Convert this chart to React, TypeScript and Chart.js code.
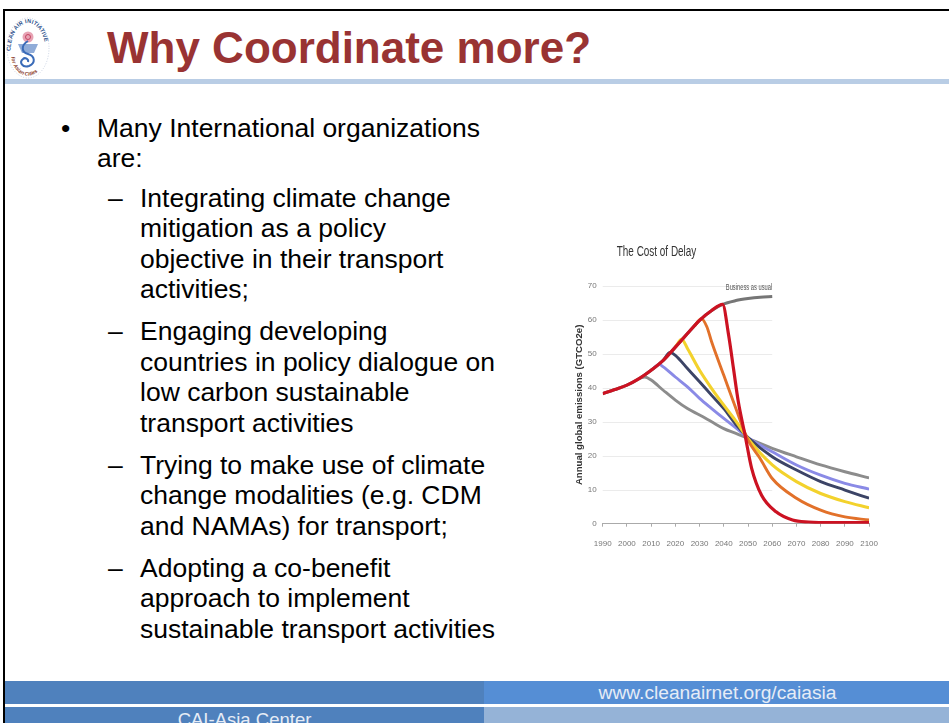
import React, { useEffect, useRef } from "react";
import { Chart, registerables } from "chart.js";

Chart.register(...registerables);

// ---------- data ----------
const xTickYears = [1990, 2000, 2010, 2020, 2030, 2040, 2050, 2060, 2070, 2080, 2090, 2100];
const yTickValues = [0, 10, 20, 30, 40, 50, 60, 70];

const bauYears = [1990, 1995, 2000, 2005, 2010, 2015, 2020, 2025, 2030, 2035, 2039.5, 2045, 2050, 2055, 2060];
const bauValues = [38.3, 39.5, 40.8, 42.7, 45.2, 48.1, 52, 56, 59.9, 62.8, 64.6, 65.7, 66.3, 66.7, 66.9];

const redYears = [1990, 1995, 2000, 2005, 2010, 2015, 2020, 2025, 2030, 2035, 2039.5, 2042, 2044, 2046, 2048.8, 2051.5, 2055.6, 2061.6, 2068.4, 2075, 2085, 2100];
const redValues = [38.3, 39.5, 40.8, 42.7, 45.2, 48.1, 52, 56, 59.9, 62.8, 64.6, 55.5, 45.7, 35.9, 26, 16.3, 8.4, 3.5, 1.1, 0.5, 0.3, 0.3];

const orangeYears = [2028, 2030.7, 2033, 2035, 2040, 2045, 2050, 2055, 2060, 2070, 2080, 2090, 2100];
const orangeValues = [58.3, 60.4, 58, 53.5, 43.7, 33.9, 24.6, 19.2, 13.3, 7.5, 4, 2, 1.1];

const yellowYears = [2020, 2022.6, 2025, 2030, 2035, 2040, 2045, 2050, 2060, 2070, 2080, 2090, 2100];
const yellowValues = [52, 54.3, 51.6, 45.2, 39.8, 34.9, 30.2, 25, 17.3, 12.4, 8.9, 6.5, 4.7];

const navyYears = [2015, 2017.8, 2020, 2025, 2030, 2035, 2040, 2045, 2050, 2060, 2070, 2080, 2090, 2100];
const navyValues = [48.1, 50.4, 49.6, 45.7, 41.8, 37.8, 33.9, 29.2, 25.4, 19.7, 15.8, 12.4, 9.9, 7.5];

const purpleYears = [2011, 2013.4, 2015, 2020, 2025, 2030, 2035, 2040, 2045, 2050, 2060, 2070, 2080, 2090, 2100];
const purpleValues = [45.8, 46.9, 46.2, 43.2, 40.3, 36.9, 33.9, 31, 28.2, 25.3, 21.2, 17.3, 14.3, 11.9, 10.2];

const grayYears = [2005, 2007.4, 2010, 2015, 2020, 2025, 2030, 2035, 2040, 2045, 2050, 2060, 2070, 2080, 2090, 2100];
const grayValues = [42.7, 43.2, 42.3, 39.3, 36.4, 33.9, 32, 30, 28, 26.6, 25.1, 22.2, 19.7, 17.3, 15.3, 13.5];

const chartTitle = "The Cost of Delay";
const bauLabel = "Business as usual";
const bauLabelYear = 2060;
const bauLabelValue = 69.7;
const titleYear = 1995.8;
const gridEndYear = 2060;

const pts = (xs: number[], ys: number[]) => xs.map((x, i) => ({ x, y: ys[i] }));

const SANS = '"Liberation Sans", Arial, Helvetica, sans-serif';

function drawCondensed(ctx: CanvasRenderingContext2D, text: string, x: number, y: number, sx: number) {
  ctx.save();
  ctx.translate(x, y);
  ctx.scale(sx, 1);
  ctx.fillText(text, 0, 0);
  ctx.restore();
}

const overlayPlugin = {
  id: "overlay",
  beforeDatasetsDraw(chart: any) {
    const { ctx, chartArea, scales } = chart;
    const x = scales.x, y = scales.y;
    ctx.save();
    ctx.strokeStyle = "#ebebeb";
    ctx.lineWidth = 1;
    const xEnd = x.getPixelForValue(gridEndYear);
    yTickValues.forEach((v) => {
      if (v === 0) return;
      const py = Math.round(y.getPixelForValue(v)) + 0.5;
      ctx.beginPath();
      ctx.moveTo(chartArea.left, py);
      ctx.lineTo(xEnd, py);
      ctx.stroke();
    });
    ctx.restore();
  },
  afterDatasetsDraw(chart: any) {
    const { ctx, chartArea, scales } = chart;
    const x = scales.x, y = scales.y;
    ctx.save();
    ctx.fillStyle = "#555";
    ctx.font = `9px ${SANS}`;
    ctx.textAlign = "right";
    ctx.textBaseline = "middle";
    drawCondensed(ctx, bauLabel, x.getPixelForValue(bauLabelYear), y.getPixelForValue(bauLabelValue), 0.64);
    ctx.fillStyle = "#333";
    ctx.font = `14px ${SANS}`;
    ctx.textAlign = "left";
    drawCondensed(ctx, chartTitle, x.getPixelForValue(titleYear), chartArea.top - 34, 0.71);
    ctx.restore();
  },
};

function CostChart() {
  const ref = useRef<HTMLCanvasElement | null>(null);
  useEffect(() => {
    if (!ref.current) return;
    const ds = (label: string, xs: number[], ys: number[], color: string, w: number) => ({
      label,
      data: pts(xs, ys),
      borderColor: color,
      backgroundColor: color,
      borderWidth: w,
      pointRadius: 0,
      fill: false,
      cubicInterpolationMode: "monotone" as const,
    });
    const chart = new Chart(ref.current, {
      type: "line",
      data: {
        datasets: [
          ds("Delay to 2040", redYears, redValues, "#cc1222", 3.2),
          ds("Delay to 2030", orangeYears, orangeValues, "#e2712a", 2.9),
          ds("Delay to 2022", yellowYears, yellowValues, "#f3d22c", 3.1),
          ds("Delay to 2017", navyYears, navyValues, "#3c4466", 2.9),
          ds("Delay to 2013", purpleYears, purpleValues, "#8a8ae6", 2.9),
          ds("Delay to 2007", grayYears, grayValues, "#8c8c8c", 2.9),
          ds("Business as usual", bauYears, bauValues, "#767676", 3.1),
        ],
      },
      options: {
        animation: false,
        responsive: true,
        maintainAspectRatio: false,
        layout: { padding: { left: 13, top: 51, right: 15, bottom: 0 } },
        plugins: { legend: { display: false }, tooltip: { enabled: false }, title: { display: false } },
        scales: {
          x: {
            type: "linear",
            min: 1990,
            max: 2100,
            afterBuildTicks: (s: any) => {
              s.ticks = xTickYears.map((v) => ({ value: v }));
            },
            afterFit: (s: any) => {
              s.height = 31.3;
            },
            ticks: {
              color: "#777",
              font: { family: SANS, size: 8 },
              padding: 12,
              maxRotation: 0,
              autoSkip: false,
              callback: (v: any) => String(v),
            },
            grid: { display: true, drawOnChartArea: false, drawTicks: true, tickLength: 3, color: "#aaa" },
            border: { display: true, color: "#aaa" },
          },
          y: {
            type: "linear",
            min: 0,
            max: 70,
            afterBuildTicks: (s: any) => {
              s.ticks = yTickValues.map((v) => ({ value: v }));
            },
            afterFit: (s: any) => {
              s.width = 29.7;
            },
            ticks: { color: "#777", font: { family: SANS, size: 8 }, padding: 6 },
            grid: { display: false, drawTicks: false },
            border: { display: false },
            title: {
              display: true,
              text: "Annual global emissions (GTCO2e)",
              color: "#333",
              font: { family: SANS, size: 9.6, weight: "bold" },
              padding: { top: 1, bottom: 0 },
            },
          },
        },
      },
      plugins: [overlayPlugin],
    });
    return () => chart.destroy();
  }, []);
  return (
    <div style={{ position: "absolute", left: 560, top: 235, width: 330, height: 320 }}>
      <canvas ref={ref} />
    </div>
  );
}

const bodyLines: { text: string; level: number; marker?: string; baseline: number }[] = [
  { text: "Many International organizations", level: 1, marker: "•", baseline: 136.7 },
  { text: "are:", level: 1, baseline: 166.9 },
  { text: "Integrating climate change", level: 2, marker: "–", baseline: 207 },
  { text: "mitigation as a policy", level: 2, baseline: 237.5 },
  { text: "objective in their transport", level: 2, baseline: 268 },
  { text: "activities;", level: 2, baseline: 298.5 },
  { text: "Engaging developing", level: 2, marker: "–", baseline: 340.5 },
  { text: "countries in policy dialogue on", level: 2, baseline: 371 },
  { text: "low carbon sustainable", level: 2, baseline: 401.5 },
  { text: "transport activities", level: 2, baseline: 432 },
  { text: "Trying to make use of climate", level: 2, marker: "–", baseline: 474 },
  { text: "change modalities (e.g. CDM", level: 2, baseline: 504.5 },
  { text: "and NAMAs) for transport;", level: 2, baseline: 535 },
  { text: "Adopting a co-benefit", level: 2, marker: "–", baseline: 577 },
  { text: "approach to implement", level: 2, baseline: 607.5 },
  { text: "sustainable transport activities", level: 2, baseline: 638 },
];

function Logo() {
  return (
    <svg width={44} height={64} viewBox="0 0 44 64" style={{ position: "absolute", left: 6, top: 15 }}>
      <defs>
        <path id="arcTop" d="M4.5,36 A17.5,28 0 0,1 39.5,36" />
        <path id="arcBot" d="M5,40 A17,22 0 0,0 38,46" />
      </defs>
      <ellipse cx={22} cy={33} rx={21} ry={30} fill="#fff" stroke="#bcc8dc" strokeWidth={0.8} strokeDasharray="1 1.6" />
      <text fontSize={5.6} fontWeight="bold" fill="#2d4f8a" fontFamily={SANS} letterSpacing={0.15}>
        <textPath href="#arcTop">CLEAN AIR INITIATIVE</textPath>
      </text>
      <text fontSize={5.2} fontWeight="bold" fill="#8a3b2a" fontFamily={SANS} fontStyle="italic">
        <textPath href="#arcBot" startOffset="4%">for Asian Cities</textPath>
      </text>
      <circle cx={22} cy={22} r={5.5} fill="#e7a3b4" />
      <circle cx={22} cy={22} r={2.5} fill="none" stroke="#c23b5a" strokeWidth={0.9} />
      <path d="M12,29 L32,29 L28,38 L16,38 Z" fill="#90acd8" />
      <path d="M22,26 C15,30 15,37 22,39 C29,41 30,48 23,51 C16,53 13,47 17,44 C19,42 23,44 22,47" fill="none" stroke="#3a6bb8" strokeWidth={2} />
    </svg>
  );
}

export default function App() {
  return (
    <div style={{ position: "absolute", left: 0, top: 0, width: 949, height: 723, background: "#fff", overflow: "hidden", fontFamily: SANS }}>
      {/* slide frame */}
      <div style={{ position: "absolute", left: 3, top: 9, width: 960, height: 730, borderTop: "2px solid #000", borderLeft: "2.5px solid #000", boxSizing: "border-box" }} />
      <Logo />
      <div
        style={{
          position: "absolute",
          left: 107,
          top: 63 - 0.905 * 44 + (0.905 + 0.212 - 1) * 44 / 2,
          fontSize: 44,
          lineHeight: "44px",
          fontWeight: "bold",
          color: "#993333",
          whiteSpace: "nowrap",
        }}
      >
        Why Coordinate more?
      </div>
      <div style={{ position: "absolute", left: 5, top: 79, width: 944, height: 5, background: "#b9cde5" }} />

      {bodyLines.map((l, i) => {
        const top = l.baseline - 24.2;
        const textLeft = l.level === 1 ? 97 : 140;
        const markerLeft = l.level === 1 ? 61 : 108;
        return (
          <React.Fragment key={i}>
            {l.marker && (
              <div style={{ position: "absolute", left: markerLeft, top, fontSize: 26.5, lineHeight: "30px", color: "#000", whiteSpace: "nowrap" }}>
                {l.marker}
              </div>
            )}
            <div style={{ position: "absolute", left: textLeft, top, fontSize: 26.5, lineHeight: "30px", color: "#000", whiteSpace: "nowrap" }}>
              {l.text}
            </div>
          </React.Fragment>
        );
      })}

      <CostChart />

      {/* footer */}
      <div style={{ position: "absolute", left: 5, top: 681, width: 479, height: 23, background: "#4f81bd" }} />
      <div style={{ position: "absolute", left: 484, top: 681, width: 465, height: 23, background: "#558ed5", color: "#e6ecf6", fontSize: 19.2, lineHeight: "23px", textAlign: "center", fontFamily: SANS }}>
        <span style={{ position: "relative", left: 1 }}>www.cleanairnet.org/caiasia</span>
      </div>
      <div style={{ position: "absolute", left: 5, top: 707, width: 479, height: 16, background: "#4f81bd", color: "#e6ecf6", fontSize: 18.5, lineHeight: "25px", textAlign: "center", fontFamily: SANS, overflow: "hidden", whiteSpace: "nowrap" }}>
        CAI-Asia Center
      </div>
      <div style={{ position: "absolute", left: 484, top: 707, width: 465, height: 16, background: "#95b3d7" }} />
    </div>
  );
}
